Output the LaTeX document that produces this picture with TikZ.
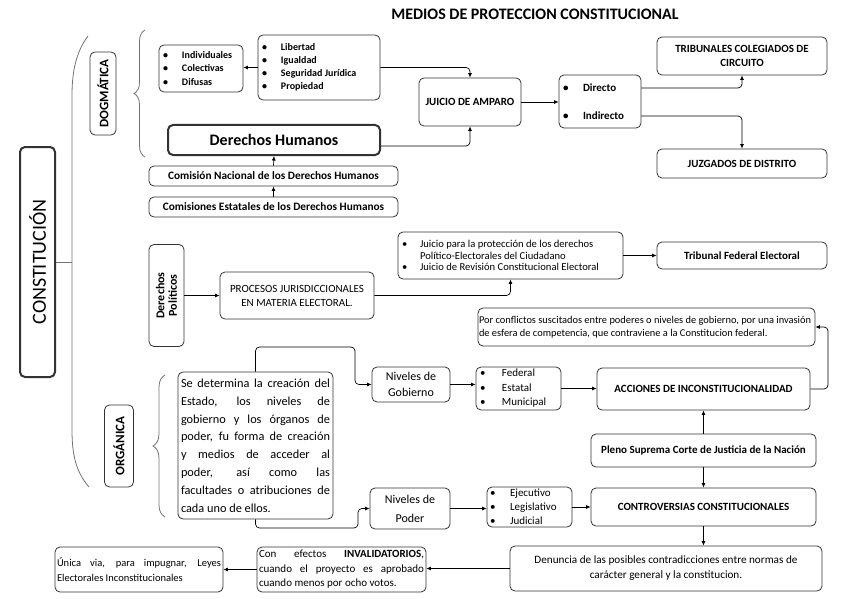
\documentclass[tikz,border=0pt]{standalone}
\usepackage{fontspec}
\setmainfont{Carlito}
\usetikzlibrary{arrows.meta,decorations.pathreplacing,calc}
\setlength{\parindent}{0pt}
\newcommand\mybul[1][19pt]{\makebox[#1][l]{\textbullet}}
\newcommand\nsp{\spaceskip=0pt\xspaceskip=0pt\relax}
\newcommand\jline[2]{\makebox[#1][s]{\spaceskip=0.22em plus 10em\xspaceskip=0pt\relax #2}}
\newcommand\myfs[2]{\fontsize{#1}{#2}\selectfont}
\begin{document}
\begin{tikzpicture}[x=1pt,y=-1pt,
  box/.style={draw=black!80, line width=0.8pt, rounded corners=5pt, align=center, inner sep=2pt},
  lst/.style={box, align=left, inner xsep=4pt},
  arr/.style={draw=black, line width=0.7pt, rounded corners=4pt, -{Latex[length=4.5pt,width=4pt]}},
  brc/.style={draw=black!55, line width=0.8pt, decorate, decoration={brace, amplitude=#1}},
  grayline/.style={draw=black!55, line width=0.8pt}
]
\useasboundingbox (0,0) rectangle (848,599);

% title
\node[font=\myfs{16}{19}\bfseries] (title) at (535,14) {MEDIOS DE PROTECCION CONSTITUCIONAL};

% left structure
\node[box, line width=2pt, rotate=90, minimum width=230pt, minimum height=35pt, font=\myfs{20}{24}] (const) at (37.5,262) {CONSTITUCIÓN};
\node[box, rotate=90, minimum width=83pt, minimum height=26pt, font=\myfs{13}{15}\bfseries] (dog) at (103,93.5) {DOGMÁTICA};
\node[box, rotate=90, minimum width=82pt, minimum height=29pt, font=\myfs{13}{15}\bfseries] (org) at (119,446) {ORGÁNICA};
\node[box, rotate=90, minimum width=102pt, minimum height=35pt, font=\myfs{12}{12.5}\bfseries] (dp) at (166.5,295.5) {Derechos\\Políticos};

\draw[grayline] (88,36) .. controls (76,52) and (72,72) .. (72,95) -- (72,430) .. controls (72,455) and (76,472) .. (89,487);
\coordinate (brk) at (72,262);
\draw[grayline] (const) -- (brk);
\draw[brc=11pt] (145,157) -- (145,30);
\draw[brc=12pt] (165,517) -- (165,375);

% top section
\node[lst, text width=76pt, minimum width=84pt, minimum height=47pt, font=\myfs{10}{13.5}\bfseries] (indiv) at (201,68.5) {\nsp\mybul Individuales\\\mybul Colectivas\\\mybul Difusas};
\node[lst, text width=114pt, minimum width=122pt, minimum height=65pt, font=\myfs{10}{13}\bfseries] (lib) at (319,67.5) {\nsp\mybul Libertad\\\mybul Igualdad\\\mybul Seguridad Jurídica\\\mybul Propiedad};
\node[box, line width=2pt, minimum width=212pt, minimum height=30pt, font=\myfs{16}{18}\bfseries] (dh) at (274,140) {Derechos Humanos};
\node[box, minimum width=249pt, minimum height=20pt, font=\myfs{11.3}{13}\bfseries] (cnd) at (273.5,176) {Comisión Nacional de los Derechos Humanos};
\node[box, minimum width=249pt, minimum height=20pt, font=\myfs{11.3}{13}\bfseries] (ced) at (273.5,207) {Comisiones Estatales de los Derechos Humanos};
\node[box, minimum width=102pt, minimum height=48pt, font=\myfs{11}{13}\bfseries] (amp) at (470,102) {JUICIO DE AMPARO};
\node[lst, text width=74pt, minimum width=82pt, minimum height=53pt, font=\myfs{11}{28}\bfseries] (dir) at (600,101.5) {\nsp\mybul[20pt]Directo\\\mybul[20pt]Indirecto};
\node[box, minimum width=170pt, minimum height=38pt, font=\myfs{11}{13.5}\bfseries] (tcc) at (742,56) {TRIBUNALES COLEGIADOS DE\\CIRCUITO};
\node[box, minimum width=170pt, minimum height=29pt, font=\myfs{11}{13}\bfseries] (jd) at (742,163.5) {JUZGADOS DE DISTRITO};

\draw[arr] (lib.west) -- (lib.west -| indiv.east);
\draw[arr] (lib.east) -| (amp.north);
\draw[arr] ([yshift=-6pt]dh.east) -| (amp.south);
\draw[arr] (cnd.north) -- (dh.south);
\draw[arr] (ced.north) -- (cnd.south);
\draw[arr] (amp.east) -- (amp.east -| dir.west);
\draw[arr] ([yshift=13.5pt]dir.east) -| (tcc.south);
\draw[arr] ([yshift=-14.5pt]dir.east) -| (jd.north);

% middle section
\node[box, minimum width=154pt, minimum height=47pt, font=\myfs{11}{14}] (proc) at (297,295.5) {PROCESOS JURISDICCIONALES\\EN MATERIA ELECTORAL.};
\node[lst, text width=217pt, minimum width=225pt, minimum height=47pt, font=\myfs{10.6}{11.5}] (jpp) at (510.5,255.5) {\nsp\mybul[18pt]Juicio para la protección de los derechos\\\hspace*{18pt}Político-Electorales del Ciudadano\\\mybul[18pt]Juicio de Revisión Constitucional Electoral};
\node[box, minimum width=170pt, minimum height=27pt, font=\myfs{11}{13}\bfseries] (tfe) at (742,255.5) {Tribunal Federal Electoral};
\node[box, align=left, text width=335pt, inner xsep=1pt, minimum width=337pt, minimum height=38pt, font=\myfs{10.4}{13}] (pc) at (646.5,327) {\nsp Por conflictos suscitados entre poderes o niveles de gobierno, por una invasión\\de esfera de competencia, que contraviene a la Constitucion federal.};

\draw[arr] (dp.south) -- (proc.west);
\draw[arr] (proc.east) -| (jpp.south);
\draw[arr] (jpp.east) -- (tfe.west);

% lower section
\node[box, minimum width=78pt, minimum height=35pt, font=\myfs{12}{16}] (ng) at (411,384.5) {Niveles de\\Gobierno};
\node[box, minimum width=80pt, minimum height=41pt, font=\myfs{12}{19}] (np) at (410,508.5) {Niveles de\\Poder};
\node[box, align=left, text width=149pt, inner xsep=3pt, minimum width=155pt, minimum height=147pt, font=\myfs{12.3}{17.8}] (sd) at (255.5,445.5) {\nsp\jline{149pt}{Se determina la creación del}\\\jline{149pt}{Estado, los niveles de}\\\jline{149pt}{gobierno y los órganos de}\\\jline{149pt}{poder, fu forma de creación}\\\jline{149pt}{y medios de acceder al}\\\jline{149pt}{poder, así como las}\\\jline{149pt}{facultades o atribuciones de}\\cada uno de ellos.};
\node[lst, text width=77pt, minimum width=85pt, minimum height=43pt, font=\myfs{11}{14.5}] (fed) at (518.5,388.5) {\nsp\mybul[22pt]Federal\\\mybul[22pt]Estatal\\\mybul[22pt]Municipal};
\node[box, minimum width=213pt, minimum height=42pt, font=\myfs{11}{13}\bfseries] (acc) at (703.5,389) {ACCIONES DE INCONSTITUCIONALIDAD};
\node[box, minimum width=225pt, minimum height=33pt, font=\myfs{11}{13}\bfseries] (pleno) at (703.5,450.5) {Pleno Suprema Corte de Justicia de la Nación};
\node[box, minimum width=225pt, minimum height=38pt, font=\myfs{11}{13}\bfseries] (contro) at (703.5,507) {CONTROVERSIAS CONSTITUCIONALES};
\node[lst, inner xsep=3pt, text width=79pt, minimum width=85pt, minimum height=40pt, font=\myfs{11}{14}] (eje) at (529.5,507) {\nsp\mybul[20pt]Ejecutivo\\\mybul[20pt]Legislativo\\\mybul[20pt]Judicial};
\node[box, minimum width=312pt, minimum height=45pt, font=\myfs{11.2}{15}] (den) at (666,568.5) {Denuncia de las posibles contradicciones entre normas de\\carácter general y la constitucion.};
\node[box, align=left, text width=165pt, inner xsep=2pt, minimum width=169pt, minimum height=45pt, font=\myfs{11}{14.5}] (con) at (341.5,569.5) {\nsp\jline{165pt}{Con efectos \textbf{INVALIDATORIOS},}\\\jline{165pt}{cuando el proyecto es aprobado}\\cuando menos por ocho votos.};
\node[box, align=left, text width=164pt, inner xsep=2pt, minimum width=168pt, minimum height=45pt, font=\myfs{10.5}{15}] (uni) at (139,569.5) {\nsp\jline{164pt}{Única via, para impugnar, Leyes}\\Electorales Inconstitucionales};

\draw[arr] (sd.north) |- (355,347) |- (ng.west);
\draw[arr] (sd.south) |- (358,528) |- (np.west);
\draw[arr] (ng.east) -- (ng.east -| fed.west);
\draw[arr] (np.east) -- (np.east -| eje.west);
\draw[arr] (fed.east) -- (fed.east -| acc.west);
\draw[arr] (pleno.north) -- (acc.south);
\draw[arr] (pleno.south) -- (contro.north);
\draw[arr] (eje.east) -- (contro.west);
\draw[arr] (acc.east) -- (828,389) |- (pc.east);
\draw[arr] (contro.south) -- (contro.south |- den.north);
\draw[arr] (den.west) -- (den.west -| con.east);
\draw[arr] (con.west) -- (con.west -| uni.east);
\end{tikzpicture}
\end{document}
